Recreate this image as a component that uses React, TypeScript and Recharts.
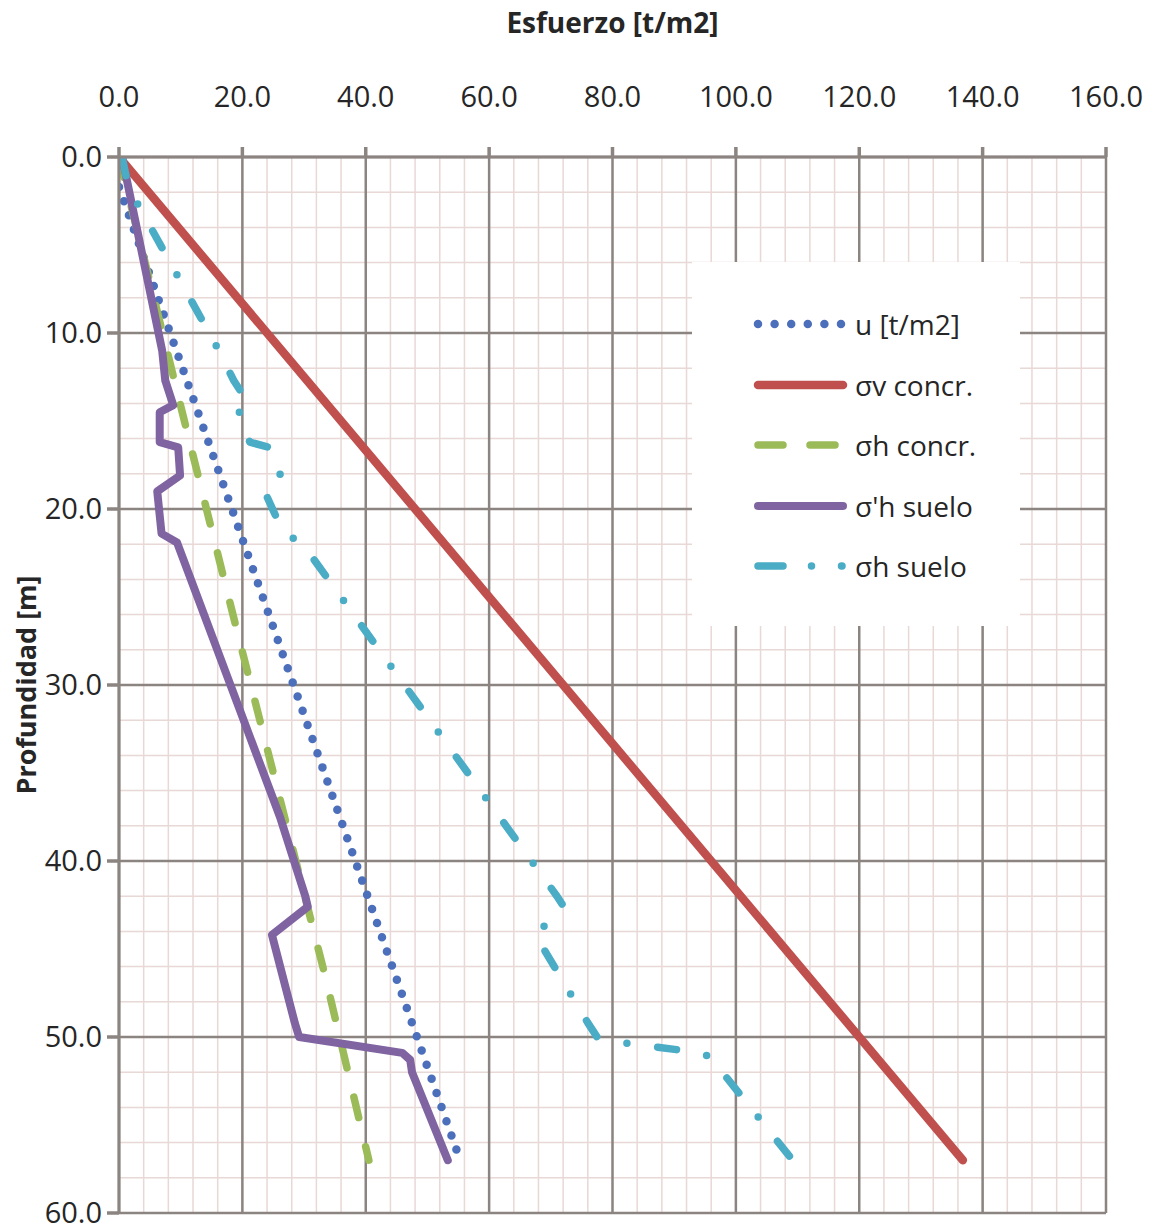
import { CartesianGrid, Label, Legend, Line, LineChart, XAxis, YAxis } from "recharts";

// Ejes: esfuerzo (arriba) y profundidad (izquierda, invertida)
const X_MAJOR_TICKS = [0, 20, 40, 60, 80, 100, 120, 140, 160];
const X_MINOR_TICKS = [
  0, 4, 8, 12, 16, 20, 24, 28, 32, 36, 40, 44, 48, 52, 56, 60, 64, 68, 72, 76, 80,
  84, 88, 92, 96, 100, 104, 108, 112, 116, 120, 124, 128, 132, 136, 140, 144, 148,
  152, 156, 160,
];
const Y_MAJOR_TICKS = [0, 10, 20, 30, 40, 50, 60];
const Y_MINOR_TICKS = [
  0, 2, 4, 6, 8, 10, 12, 14, 16, 18, 20, 22, 24, 26, 28, 30, 32, 34, 36, 38, 40, 42,
  44, 46, 48, 50, 52, 54, 56, 58, 60,
];

// u [t/m2]
const U_DEPTH = [0, 1.7, 57];
const U_VALUE = [0, 0, 55.3];

// σv concr.
const SV_DEPTH = [0, 57];
const SV_VALUE = [0, 136.8];

// σh concr.
const SHC_DEPTH = [0, 15, 26.6, 46.5, 57];
const SHC_VALUE = [0, 10.6, 18.9, 33.4, 40.5];

// σ'h suelo
const SPH_DEPTH = [
  0, 11, 12.7, 14.1, 14.5, 16.2, 16.5, 18.1, 19.0, 21.4, 21.9, 37.5, 42.0, 42.6, 44.2,
  49.2, 50.0, 50.9, 51.3, 52.0, 57,
];
const SPH_VALUE = [
  0.5, 7.0, 7.5, 8.8, 6.6, 6.6, 9.6, 9.9, 6.2, 6.9, 9.4, 26.1, 30.2, 30.6, 24.8, 28.5,
  29.2, 45.9, 47.2, 47.5, 53.3,
];

// σh suelo
const SHS_DEPTH = [
  0, 1.7, 11, 12.7, 14.1, 14.5, 16.2, 16.5, 18.1, 19.0, 21.4, 21.9, 37.5, 42.0, 42.6,
  44.2, 49.2, 50.0, 50.3, 50.9, 51.3, 52.0, 57,
];
const SHS_VALUE = [
  0.5, 1.5, 16.2, 18.6, 21.2, 19.5, 21.2, 24.4, 26.2, 23.6, 26.7, 29.6, 61.7, 71.0, 72.1,
  67.5, 76.0, 77.5, 81.0, 94.5, 96.5, 97.8, 109.2,
];

const toRows = (depths: number[], values: number[]) =>
  depths.map((z, i) => ({ z, x: values[i] }));

// filas base del gráfico: solo sirven para que el eje menor tenga dominio
const GRID_ROWS = X_MINOR_TICKS.map((x) => ({ gx: x }));

type Serie = {
  key: string;
  name: string;
  color: string;
  width: number;
  dash?: string;
  legendDash?: string;
  data: { z: number; x: number }[];
};

const SERIES: Serie[] = [
  { key: "u", name: "u [t/m2]", color: "#4c6fbb", width: 8.5, dash: "0 15", legendDash: "0 16.6", data: toRows(U_DEPTH, U_VALUE) },
  { key: "sv", name: "σv concr.", color: "#c0504d", width: 8.5, data: toRows(SV_DEPTH, SV_VALUE) },
  { key: "shc", name: "σh concr.", color: "#9bbb59", width: 7.5, dash: "21 30", legendDash: "25 27", data: toRows(SHC_DEPTH, SHC_VALUE) },
  { key: "sph", name: "σ'h suelo", color: "#8064a2", width: 8, data: toRows(SPH_DEPTH, SPH_VALUE) },
  { key: "shs", name: "σh suelo", color: "#4bacc6", width: 7.5, dash: "19 31 0 31", legendDash: "25 28.5 0 30", data: toRows(SHS_DEPTH, SHS_VALUE) },
];

const MAJOR = "#8b8481";
const MINOR = "#e8d8d6";
const TEXT = "#262626";
const FONT = "'Open Sans', sans-serif";

function LegendBox() {
  return (
    <div style={{ position: "relative", width: 328, height: 364, background: "#fff" }}>
      {SERIES.map((s, i) => (
        <div
          key={s.key}
          style={{
            position: "absolute",
            left: 0,
            top: 32 + i * 60.5,
            height: 60,
            display: "flex",
            alignItems: "center",
          }}
        >
          <svg width={163} height={20} style={{ display: "block" }}>
            <line
              x1={66}
              x2={s.dash ? 150 : 151}
              y1={10}
              y2={10}
              stroke={s.color}
              strokeWidth={s.width}
              strokeDasharray={s.legendDash}
              strokeLinecap="round"
            />
          </svg>
          <span style={{ fontFamily: FONT, fontSize: 28, color: TEXT, whiteSpace: "nowrap" }}>
            {s.name}
          </span>
        </div>
      ))}
    </div>
  );
}

export default function App() {
  return (
    <div style={{ position: "absolute", left: 0, top: 0, background: "#fff" }}>
      <LineChart
        width={1154}
        height={1230}
        data={GRID_ROWS}
        margin={{ top: 0, right: 48, bottom: 17, left: 0 }}
      >
        {/* ejes auxiliares (ocultos) solo para la rejilla menor */}
        <XAxis
          xAxisId="minor"
          dataKey="gx"
          type="number"
          domain={[0, 160]}
          ticks={X_MINOR_TICKS}
          interval={0}
          hide
          allowDataOverflow
        />
        <YAxis yAxisId="minor" type="number" domain={[0, 60]} ticks={Y_MINOR_TICKS} interval={0} reversed hide allowDataOverflow />
        <CartesianGrid xAxisId="minor" yAxisId="minor" stroke={MINOR} strokeWidth={1.5} />
        <CartesianGrid xAxisId="major" yAxisId="major" stroke={MAJOR} strokeWidth={2.5} />
        <XAxis
          xAxisId="major"
          dataKey="x"
          type="number"
          orientation="top"
          domain={[0, 160]}
          ticks={X_MAJOR_TICKS}
          interval={0}
          allowDataOverflow
          height={157}
          tickSize={10}
          tickMargin={40}
          tickFormatter={(v: number) => v.toFixed(1)}
          tick={{ fill: TEXT, fontSize: 29, fontFamily: FONT }}
          axisLine={{ stroke: MAJOR, strokeWidth: 3 }}
          tickLine={{ stroke: MAJOR, strokeWidth: 3.5 }}
        >
          <Label
            value="Esfuerzo [t/m2]"
            position="insideTop"
            offset={13}
            style={{ fill: TEXT, fontSize: 28, fontWeight: 700, fontFamily: FONT }}
          />
        </XAxis>
        <YAxis
          yAxisId="major"
          type="number"
          domain={[0, 60]}
          ticks={Y_MAJOR_TICKS}
          interval={0}
          reversed
          allowDataOverflow
          width={119}
          tickSize={12}
          tickMargin={5}
          tickFormatter={(v: number) => v.toFixed(1)}
          tick={{ fill: TEXT, fontSize: 29, fontFamily: FONT }}
          axisLine={{ stroke: MAJOR, strokeWidth: 3 }}
          tickLine={{ stroke: MAJOR, strokeWidth: 3.5 }}
        >
          <Label
            content={(props: any) => {
              const vb = props.viewBox ?? { x: 0, y: 157, width: 119, height: 1056 };
              const cx = vb.x + 25;
              const cy = vb.y + vb.height / 2;
              return (
                <text
                  x={cx}
                  y={cy}
                  transform={`rotate(-90, ${cx}, ${cy})`}
                  textAnchor="middle"
                  dominantBaseline="central"
                  style={{ fill: TEXT, fontSize: 27, fontWeight: 700, fontFamily: FONT }}
                >
                  Profundidad [m]
                </text>
              );
            }}
          />
        </YAxis>
        <Legend
          layout="vertical"
          align="center"
          verticalAlign="middle"
          wrapperStyle={{ left: 692, top: 262, width: 328, height: 364 }}
          content={() => <LegendBox />}
        />
        {SERIES.map((s) => (
          <Line
            key={s.key}
            xAxisId="major"
            yAxisId="major"
            data={s.data}
            dataKey="z"
            name={s.name}
            type="linear"
            stroke={s.color}
            strokeWidth={s.width}
            strokeDasharray={s.dash}
            strokeLinecap="round"
            strokeLinejoin="round"
            dot={false}
            activeDot={false}
            isAnimationActive={false}
          />
        ))}
      </LineChart>
    </div>
  );
}
